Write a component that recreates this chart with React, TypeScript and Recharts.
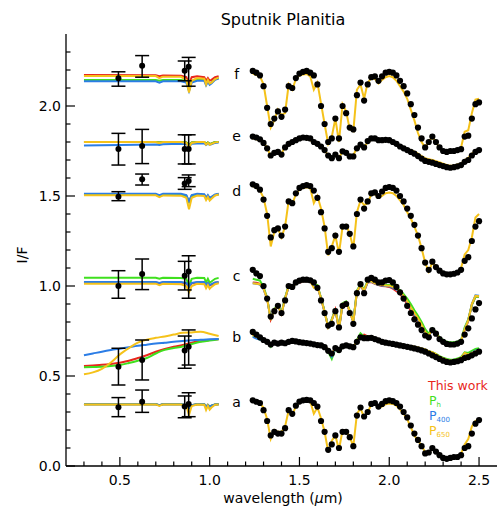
import { ComposedChart, ErrorBar, Line, Scatter, XAxis, YAxis } from "recharts";

const RED = "#e8271c";
const GREEN = "#3fe01e";
const BLUE = "#2b7de6";
const YELLOW = "#f5c21a";
const FONT = "DejaVu Sans";

// axis ticks (every 0.1, labels on the 0.5 ones)
const X_TICKS = [0.3, 0.4, 0.5, 0.6, 0.7, 0.8, 0.9, 1.0, 1.1, 1.2, 1.3, 1.4, 1.5, 1.6, 1.7, 1.8, 1.9, 2.0, 2.1, 2.2, 2.3, 2.4, 2.5];
const Y_TICKS = [0.0, 0.1, 0.2, 0.3, 0.4, 0.5, 0.6, 0.7, 0.8, 0.9, 1.0, 1.1, 1.2, 1.3, 1.4, 1.5, 1.6, 1.7, 1.8, 1.9, 2.0, 2.1, 2.2, 2.3];

// ---- visible part (MVIC) ----
const OBS_WL = [0.492, 0.624, 0.861, 0.883];
const VIS_WL = [0.3, 0.7, 0.72, 0.74, 0.84, 0.87, 0.885, 0.9, 0.93, 0.97, 0.98, 0.99, 1.0, 1.01, 1.03, 1.05];
const B_VIS_WL = [0.3, 0.35, 0.4, 0.45, 0.5, 0.55, 0.6, 0.65, 0.7, 0.75, 0.8, 0.85, 0.9, 0.95, 1.0, 1.05];

const fObs = [2.154, 2.224, 2.196, 2.218];
const fLo = [0.044, 0.064, 0.056, 0.108];
const fHi = [0.036, 0.056, 0.054, 0.052];
const eObs = [1.761, 1.778, 1.761, 1.761];
const eLo = [0.089, 0.098, 0.083, 0.083];
const eHi = [0.087, 0.092, 0.079, 0.079];
const dObs = [1.496, 1.593, 1.57, 1.583];
const dLo = [0.022, 0.032, 0.033, 0.031];
const dHi = [0.028, 0.029, 0.032, 0.034];
const cObs = [1.0, 1.067, 1.057, 1.081];
const cLo = [0.068, 0.087, 0.079, 0.149];
const cHi = [0.085, 0.083, 0.08, 0.087];
const bObs = [0.552, 0.589, 0.641, 0.663];
const bLo = [0.102, 0.111, 0.098, 0.102];
const bHi = [0.102, 0.111, 0.081, 0.093];
const aObs = [0.326, 0.357, 0.33, 0.344];
const aLo = [0.052, 0.059, 0.062, 0.07];
const aHi = [0.054, 0.065, 0.059, 0.063];

const fVisRed = [2.172, 2.171, 2.165, 2.17, 2.168, 2.16, 2.12, 2.16, 2.165, 2.16, 2.14, 2.155, 2.14, 2.145, 2.16, 2.165];
const fVisGreen = [2.145, 2.145, 2.14, 2.145, 2.145, 2.14, 2.1, 2.14, 2.145, 2.145, 2.125, 2.14, 2.125, 2.13, 2.148, 2.155];
const fVisBlue = [2.137, 2.137, 2.13, 2.137, 2.138, 2.13, 2.082, 2.13, 2.14, 2.14, 2.115, 2.135, 2.118, 2.125, 2.145, 2.152];
const fVisYellow = [2.167, 2.166, 2.155, 2.163, 2.162, 2.145, 2.075, 2.14, 2.155, 2.152, 2.12, 2.145, 2.125, 2.13, 2.15, 2.158];
const eVisRed = [1.8, 1.8, 1.797, 1.8, 1.8, 1.798, 1.785, 1.798, 1.8, 1.8, 1.79, 1.797, 1.79, 1.792, 1.8, 1.8];
const eVisGreen = [1.8, 1.8, 1.797, 1.8, 1.8, 1.798, 1.785, 1.798, 1.8, 1.8, 1.79, 1.797, 1.79, 1.792, 1.8, 1.8];
const eVisBlue = [1.78, 1.786, 1.784, 1.787, 1.79, 1.789, 1.775, 1.79, 1.792, 1.793, 1.783, 1.79, 1.785, 1.787, 1.795, 1.797];
const eVisYellow = [1.8, 1.8, 1.795, 1.8, 1.8, 1.795, 1.774, 1.795, 1.8, 1.8, 1.785, 1.795, 1.785, 1.79, 1.798, 1.8];
const dVisRed = [1.508, 1.508, 1.5, 1.507, 1.507, 1.5, 1.47, 1.5, 1.507, 1.506, 1.49, 1.5, 1.488, 1.492, 1.505, 1.51];
const dVisGreen = [1.507, 1.507, 1.5, 1.506, 1.506, 1.5, 1.468, 1.5, 1.506, 1.505, 1.49, 1.5, 1.488, 1.492, 1.505, 1.51];
const dVisBlue = [1.512, 1.512, 1.505, 1.512, 1.512, 1.505, 1.47, 1.505, 1.512, 1.51, 1.49, 1.505, 1.49, 1.495, 1.508, 1.512];
const dVisYellow = [1.504, 1.504, 1.494, 1.503, 1.502, 1.49, 1.426, 1.49, 1.503, 1.5, 1.478, 1.495, 1.475, 1.485, 1.503, 1.508];
const cVisRed = [1.02, 1.02, 1.015, 1.02, 1.02, 1.015, 0.995, 1.015, 1.02, 1.02, 1.005, 1.015, 1.003, 1.008, 1.018, 1.02];
const cVisGreen = [1.046, 1.046, 1.04, 1.046, 1.045, 1.04, 1.0, 1.04, 1.046, 1.045, 1.02, 1.04, 1.018, 1.025, 1.04, 1.045];
const cVisBlue = [1.022, 1.022, 1.017, 1.022, 1.022, 1.017, 0.998, 1.017, 1.022, 1.022, 1.007, 1.017, 1.005, 1.01, 1.02, 1.022];
const cVisYellow = [1.013, 1.013, 1.005, 1.012, 1.01, 1.0, 0.965, 1.0, 1.012, 1.01, 0.987, 1.005, 0.985, 0.995, 1.01, 1.015];
const bVisRed = [0.556, 0.559, 0.562, 0.567, 0.574, 0.585, 0.6, 0.615, 0.635, 0.65, 0.662, 0.672, 0.685, 0.693, 0.7, 0.704];
const bVisGreen = [0.548, 0.55, 0.552, 0.556, 0.561, 0.572, 0.585, 0.6, 0.625, 0.645, 0.655, 0.664, 0.678, 0.69, 0.697, 0.704];
const bVisBlue = [0.615, 0.625, 0.635, 0.644, 0.652, 0.66, 0.668, 0.674, 0.68, 0.685, 0.69, 0.694, 0.698, 0.702, 0.704, 0.706];
const bVisYellow = [0.51, 0.52, 0.54, 0.575, 0.62, 0.655, 0.685, 0.702, 0.712, 0.72, 0.73, 0.74, 0.742, 0.746, 0.735, 0.722];
const aVisRed = [0.343, 0.343, 0.338, 0.343, 0.343, 0.338, 0.322, 0.338, 0.343, 0.343, 0.33, 0.34, 0.33, 0.335, 0.342, 0.343];
const aVisGreen = [0.343, 0.343, 0.338, 0.343, 0.343, 0.338, 0.322, 0.338, 0.343, 0.343, 0.33, 0.34, 0.33, 0.335, 0.342, 0.343];
const aVisBlue = [0.343, 0.343, 0.338, 0.343, 0.343, 0.338, 0.322, 0.338, 0.343, 0.343, 0.33, 0.34, 0.33, 0.335, 0.342, 0.343];
const aVisYellow = [0.342, 0.342, 0.334, 0.342, 0.341, 0.333, 0.283, 0.333, 0.342, 0.34, 0.311, 0.335, 0.313, 0.325, 0.34, 0.342];

// ---- near-IR part (LEISA) ----
const NIR_WL = [
  1.24, 1.26, 1.28, 1.3, 1.32, 1.34, 1.36, 1.38,
  1.4, 1.42, 1.44, 1.46, 1.48, 1.5, 1.52, 1.54,
  1.56, 1.58, 1.6, 1.62, 1.64, 1.66, 1.68, 1.7,
  1.72, 1.74, 1.76, 1.78, 1.8, 1.82, 1.84, 1.86,
  1.88, 1.9, 1.92, 1.94, 1.96, 1.98, 2.0, 2.02,
  2.04, 2.06, 2.08, 2.1, 2.12, 2.14, 2.16, 2.18,
  2.2, 2.22, 2.24, 2.26, 2.28, 2.3, 2.32, 2.34,
  2.36, 2.38, 2.4, 2.42, 2.44, 2.46, 2.48, 2.5,
];

const fData = [
  2.195, 2.185, 2.17, 2.11, 1.99, 1.9, 1.93, 1.97,
  1.94, 1.98, 2.11, 2.1, 2.155, 2.18, 2.19, 2.195,
  2.185, 2.17, 2.12, 2.0, 1.9, 1.8, 1.82, 1.93,
  1.82, 2.0, 1.96, 1.88, 1.87, 2.06, 2.13, 2.03,
  2.12, 2.16, 2.165, 2.14, 2.165, 2.185, 2.19, 2.185,
  2.17, 2.14, 2.11, 2.07, 2.01, 1.95, 1.88, 1.82,
  1.77, 1.8, 1.83, 1.8, 1.77, 1.75, 1.745, 1.75,
  1.75, 1.755, 1.76, 1.83, 1.835, 1.93, 2.01, 2.02,
];
const fModel = [
  2.18, 2.172, 2.165, 2.12, 2.0, 1.88, 1.92, 1.98,
  1.95, 1.96, 2.12, 2.09, 2.15, 2.17, 2.175, 2.178,
  2.165, 2.09, 2.13, 2.015, 1.9, 1.79, 1.83, 1.93,
  1.8, 2.01, 1.97, 1.87, 1.86, 2.09, 2.12, 2.04,
  2.13, 2.155, 2.15, 2.125, 2.145, 2.16, 2.167, 2.16,
  2.14, 2.11, 2.08, 2.04, 1.98, 1.92, 1.85, 1.8,
  1.77, 1.8, 1.83, 1.8, 1.765, 1.75, 1.746, 1.75,
  1.752, 1.758, 1.77, 1.857, 1.865, 1.96, 2.035, 2.04,
];
const eData = [
  1.83, 1.825, 1.815, 1.795, 1.765, 1.725, 1.74, 1.745,
  1.73, 1.77, 1.79, 1.8, 1.81, 1.82, 1.825, 1.823,
  1.82, 1.8, 1.79, 1.775, 1.755, 1.725, 1.71, 1.73,
  1.71, 1.748, 1.74, 1.72, 1.72, 1.765, 1.785, 1.77,
  1.805, 1.82, 1.82, 1.81, 1.81, 1.812, 1.81, 1.8,
  1.79, 1.775, 1.765, 1.755, 1.745, 1.735, 1.722, 1.708,
  1.695, 1.69, 1.685, 1.678, 1.672, 1.666, 1.66, 1.657,
  1.66, 1.665, 1.672, 1.69, 1.7, 1.725, 1.745, 1.755,
];
const eModel = [
  1.82, 1.815, 1.81, 1.795, 1.77, 1.72, 1.745, 1.745,
  1.735, 1.775, 1.79, 1.795, 1.805, 1.815, 1.818, 1.817,
  1.813, 1.79, 1.785, 1.775, 1.755, 1.725, 1.712, 1.735,
  1.71, 1.75, 1.745, 1.725, 1.725, 1.77, 1.783, 1.77,
  1.8, 1.812, 1.815, 1.805, 1.802, 1.806, 1.806, 1.8,
  1.79, 1.78, 1.772, 1.763, 1.755, 1.746, 1.735, 1.722,
  1.71, 1.705, 1.7, 1.693, 1.688, 1.68, 1.672, 1.668,
  1.67, 1.675, 1.68, 1.7, 1.712, 1.735, 1.75, 1.758,
];
const dData = [
  1.565, 1.555, 1.535, 1.48, 1.39, 1.27, 1.31, 1.32,
  1.28, 1.33, 1.47, 1.46, 1.515, 1.545, 1.555, 1.56,
  1.555, 1.53, 1.49, 1.41, 1.32, 1.19, 1.21, 1.28,
  1.19, 1.33, 1.33, 1.29, 1.22, 1.4, 1.48, 1.43,
  1.47, 1.515, 1.52, 1.5, 1.525, 1.545, 1.55, 1.545,
  1.53, 1.5, 1.47, 1.43, 1.39, 1.34, 1.28, 1.21,
  1.13, 1.09, 1.135, 1.105, 1.085, 1.07, 1.065, 1.065,
  1.068, 1.075, 1.09, 1.14, 1.16, 1.25, 1.33, 1.36,
];
const dModel = [
  1.555, 1.545, 1.53, 1.49, 1.4, 1.22, 1.3, 1.32,
  1.27, 1.33, 1.475, 1.455, 1.51, 1.535, 1.545, 1.548,
  1.545, 1.46, 1.5, 1.43, 1.33, 1.17, 1.22, 1.28,
  1.18, 1.33, 1.34, 1.29, 1.21, 1.41, 1.475, 1.45,
  1.46, 1.51, 1.51, 1.49, 1.5, 1.515, 1.519, 1.515,
  1.5, 1.475, 1.45, 1.41, 1.375, 1.33, 1.28, 1.21,
  1.13, 1.08, 1.13, 1.11, 1.09, 1.075, 1.07, 1.07,
  1.072, 1.078, 1.1, 1.175, 1.2, 1.27, 1.38, 1.4,
];
const cData = [
  1.09, 1.07, 1.055, 1.0, 0.93, 0.83, 0.86, 0.89,
  0.85, 0.92, 1.0, 0.995, 1.02, 1.03, 1.035, 1.035,
  1.032, 1.02, 0.99, 0.92, 0.85, 0.78, 0.79, 0.86,
  0.77, 0.89, 0.9, 0.85, 0.79, 0.96, 1.01, 0.96,
  1.035, 1.045, 1.035, 1.02, 1.02, 1.03, 1.033, 1.02,
  0.995, 0.965, 0.93, 0.89, 0.85, 0.815, 0.785, 0.755,
  0.725, 0.715, 0.755, 0.735, 0.705, 0.69, 0.678, 0.675,
  0.675, 0.68, 0.69, 0.73, 0.765, 0.82, 0.87, 0.905,
];
const cRed = [
  1.02, 1.018, 1.012, 0.985, 0.93, 0.815, 0.87, 0.89,
  0.845, 0.93, 0.998, 0.99, 1.012, 1.02, 1.024, 1.026,
  1.024, 1.0, 0.998, 0.93, 0.855, 0.772, 0.81, 0.868,
  0.76, 0.898, 0.908, 0.858, 0.8, 0.968, 1.0, 0.97,
  1.02, 1.022, 1.012, 1.005, 1.0, 0.998, 0.995, 0.985,
  0.972, 0.955, 0.93, 0.9, 0.862, 0.83, 0.8, 0.77,
  0.74, 0.722, 0.755, 0.735, 0.708, 0.692, 0.682, 0.68,
  0.68, 0.684, 0.694, 0.755, 0.805, 0.895, 0.94, 0.94,
];
const cGreen = [
  1.04, 1.035, 1.03, 0.995, 0.935, 0.815, 0.875, 0.895,
  0.85, 0.935, 1.005, 0.995, 1.018, 1.028, 1.032, 1.033,
  1.031, 1.005, 1.005, 0.935, 0.86, 0.775, 0.815, 0.875,
  0.765, 0.905, 0.915, 0.865, 0.805, 0.975, 1.01, 0.98,
  1.03, 1.03, 1.02, 1.012, 1.008, 1.006, 1.005, 1.0,
  0.99, 0.978, 0.955, 0.93, 0.9, 0.865, 0.835, 0.8,
  0.76, 0.735, 0.765, 0.745, 0.715, 0.7, 0.69, 0.688,
  0.688, 0.692, 0.7, 0.77, 0.815, 0.895, 0.94, 0.94,
];
const cBlue = [
  1.015, 1.012, 1.008, 0.983, 0.93, 0.812, 0.87, 0.89,
  0.845, 0.93, 0.998, 0.99, 1.01, 1.02, 1.025, 1.027,
  1.025, 1.0, 1.0, 0.93, 0.855, 0.772, 0.81, 0.87,
  0.76, 0.9, 0.91, 0.86, 0.8, 0.97, 1.003, 0.973,
  1.022, 1.024, 1.013, 1.006, 1.003, 1.0, 0.998, 0.99,
  0.98, 0.965, 0.94, 0.91, 0.875, 0.84, 0.81, 0.775,
  0.738, 0.72, 0.755, 0.735, 0.705, 0.69, 0.68, 0.678,
  0.678, 0.682, 0.692, 0.76, 0.81, 0.9, 0.948, 0.946,
];
const cYellow = [
  1.015, 1.013, 1.01, 0.985, 0.93, 0.81, 0.87, 0.89,
  0.845, 0.93, 1.0, 0.99, 1.012, 1.022, 1.026, 1.028,
  1.026, 0.99, 1.0, 0.932, 0.855, 0.77, 0.81, 0.87,
  0.76, 0.9, 0.91, 0.86, 0.8, 0.97, 1.005, 0.975,
  1.025, 1.026, 1.015, 1.008, 1.005, 1.003, 1.002, 0.995,
  0.985, 0.97, 0.945, 0.915, 0.88, 0.85, 0.82, 0.785,
  0.745, 0.725, 0.76, 0.74, 0.71, 0.695, 0.683, 0.681,
  0.681, 0.685, 0.695, 0.76, 0.81, 0.9, 0.945, 0.943,
];
const bData = [
  0.745, 0.73, 0.715, 0.7, 0.69, 0.675, 0.685, 0.68,
  0.685, 0.682, 0.69, 0.695, 0.692, 0.688, 0.685, 0.683,
  0.68, 0.676, 0.672, 0.67, 0.66, 0.64, 0.625, 0.655,
  0.645, 0.665, 0.67, 0.665, 0.66, 0.69, 0.715, 0.71,
  0.71, 0.712, 0.705, 0.698, 0.69, 0.685, 0.682, 0.678,
  0.674, 0.67, 0.666, 0.662, 0.658, 0.653, 0.648, 0.642,
  0.635, 0.625, 0.615, 0.605, 0.595, 0.585, 0.578, 0.575,
  0.578, 0.582, 0.588, 0.6, 0.605, 0.615, 0.625, 0.635,
];
const bRed = [
  0.73, 0.716, 0.706, 0.702, 0.695, 0.672, 0.688, 0.679,
  0.685, 0.679, 0.689, 0.696, 0.697, 0.689, 0.686, 0.686,
  0.684, 0.68, 0.677, 0.674, 0.665, 0.645, 0.615, 0.657,
  0.642, 0.666, 0.67, 0.666, 0.658, 0.698, 0.72, 0.73,
  0.72, 0.72, 0.712, 0.704, 0.696, 0.691, 0.687, 0.682,
  0.679, 0.676, 0.672, 0.669, 0.665, 0.661, 0.657, 0.652,
  0.645, 0.636, 0.63, 0.62, 0.605, 0.597, 0.589, 0.584,
  0.586, 0.591, 0.6, 0.626, 0.62, 0.632, 0.642, 0.648,
];
const bGreen = [
  0.725, 0.712, 0.703, 0.698, 0.69, 0.662, 0.685, 0.675,
  0.682, 0.675, 0.688, 0.695, 0.695, 0.686, 0.683, 0.682,
  0.68, 0.676, 0.673, 0.668, 0.655, 0.635, 0.595, 0.65,
  0.632, 0.66, 0.668, 0.662, 0.655, 0.7, 0.737, 0.72,
  0.722, 0.72, 0.71, 0.702, 0.695, 0.69, 0.686, 0.682,
  0.679, 0.676, 0.672, 0.669, 0.665, 0.661, 0.657, 0.652,
  0.646, 0.637, 0.632, 0.623, 0.61, 0.602, 0.595, 0.59,
  0.592, 0.597, 0.605, 0.632, 0.628, 0.64, 0.65, 0.655,
];
const bBlue = [
  0.718, 0.708, 0.702, 0.698, 0.692, 0.668, 0.684, 0.676,
  0.681, 0.676, 0.685, 0.691, 0.692, 0.685, 0.682, 0.681,
  0.679, 0.675, 0.672, 0.669, 0.66, 0.64, 0.608, 0.652,
  0.638, 0.66, 0.665, 0.66, 0.652, 0.69, 0.718, 0.71,
  0.715, 0.716, 0.708, 0.7, 0.692, 0.687, 0.683, 0.679,
  0.676, 0.673, 0.669, 0.666, 0.662, 0.658, 0.653, 0.647,
  0.64, 0.63, 0.622, 0.61, 0.585, 0.59, 0.585, 0.58,
  0.583, 0.59, 0.598, 0.625, 0.615, 0.63, 0.64, 0.646,
];
const bYellow = [
  0.728, 0.718, 0.709, 0.705, 0.698, 0.675, 0.69, 0.682,
  0.687, 0.681, 0.69, 0.697, 0.698, 0.69, 0.687, 0.687,
  0.685, 0.681, 0.679, 0.676, 0.668, 0.648, 0.62, 0.66,
  0.645, 0.668, 0.672, 0.668, 0.66, 0.695, 0.725, 0.715,
  0.72, 0.722, 0.713, 0.705, 0.697, 0.692, 0.688, 0.683,
  0.68, 0.677, 0.673, 0.67, 0.666, 0.662, 0.658, 0.653,
  0.647, 0.638, 0.632, 0.622, 0.607, 0.598, 0.59, 0.584,
  0.587, 0.592, 0.6, 0.628, 0.618, 0.628, 0.637, 0.644,
];
const aData = [
  0.365, 0.357, 0.35, 0.31, 0.25, 0.17, 0.19, 0.18,
  0.18, 0.21, 0.31, 0.29, 0.335, 0.358, 0.365, 0.367,
  0.365, 0.35, 0.33, 0.25, 0.19, 0.09, 0.12, 0.17,
  0.1, 0.19, 0.19, 0.16, 0.11, 0.28, 0.325, 0.275,
  0.3, 0.345, 0.35, 0.33, 0.345, 0.36, 0.365, 0.36,
  0.35, 0.33, 0.3, 0.27, 0.225, 0.18, 0.145, 0.11,
  0.07, 0.075, 0.1, 0.08, 0.06, 0.045, 0.04, 0.045,
  0.05, 0.05, 0.06, 0.1, 0.11, 0.18, 0.235, 0.255,
];
const aModel = [
  0.357, 0.352, 0.347, 0.325, 0.26, 0.15, 0.2, 0.19,
  0.19, 0.22, 0.31, 0.285, 0.33, 0.352, 0.36, 0.362,
  0.36, 0.29, 0.325, 0.265, 0.19, 0.08, 0.14, 0.17,
  0.09, 0.2, 0.2, 0.16, 0.11, 0.29, 0.32, 0.27,
  0.3, 0.34, 0.342, 0.325, 0.33, 0.343, 0.347, 0.345,
  0.335, 0.315, 0.29, 0.26, 0.215, 0.17, 0.14, 0.115,
  0.075, 0.07, 0.1, 0.085, 0.06, 0.05, 0.043, 0.048,
  0.052, 0.05, 0.07, 0.12, 0.15, 0.22, 0.25, 0.26,
];

// spectrum labels
const LABELS = ["f", "e", "d", "c", "b", "a"];
const LABEL_X = [1.15, 1.15, 1.15, 1.15, 1.15, 1.15];
const LABEL_Y = [2.178, 1.833, 1.528, 1.056, 0.719, 0.357];

const pts = (xs: number[], ys: number[]) => xs.map((x, i) => ({ x, y: ys[i] }));
const obs = (ys: number[], lo: number[], hi: number[]) =>
  OBS_WL.map((x, i) => ({ x, y: ys[i], err: [lo[i], hi[i]] }));

const isMajor = (v: number) => Math.abs(v * 2 - Math.round(v * 2)) < 1e-6;

function BottomTick({ x, y, payload }: any) {
  const major = isMajor(payload.value);
  return (
    <g>
      <line x1={x} x2={x} y1={y} y2={y - (major ? 9 : 4.5)} stroke="#000" strokeWidth={1.2} />
      {major && (
        <text x={x} y={y + 19} textAnchor="middle" fontSize={14} fontFamily={FONT} fill="#000">
          {payload.value.toFixed(1)}
        </text>
      )}
    </g>
  );
}
function TopTick({ x, y, payload }: any) {
  const major = isMajor(payload.value);
  return <line x1={x} x2={x} y1={y} y2={y + (major ? 9 : 4.5)} stroke="#000" strokeWidth={1.2} />;
}
function LeftTick({ x, y, payload }: any) {
  const major = isMajor(payload.value);
  return (
    <g>
      <line x1={x} x2={x + (major ? 9 : 4.5)} y1={y} y2={y} stroke="#000" strokeWidth={1.2} />
      {major && (
        <text x={x - 5} y={y + 5} textAnchor="end" fontSize={14} fontFamily={FONT} fill="#000">
          {payload.value.toFixed(1)}
        </text>
      )}
    </g>
  );
}
function RightTick({ x, y, payload }: any) {
  const major = isMajor(payload.value);
  return <line x1={x} x2={x - (major ? 9 : 4.5)} y1={y} y2={y} stroke="#000" strokeWidth={1.2} />;
}

const dot = (p: any) => <circle cx={p.cx} cy={p.cy} r={3.1} fill="#000" />;
const bigDot = (p: any) => <circle cx={p.cx} cy={p.cy} r={3} fill="#000" />;
const labelShape = (p: any) => (
  <text x={p.cx} y={p.cy + 5} textAnchor="middle" fontSize={14} fontFamily={FONT} fill="#000">
    {p.payload.label}
  </text>
);

const nirData = [fData, eData, dData, cData, bData, aData];
const nirColored = [
  { ys: cRed, c: RED }, { ys: cGreen, c: GREEN }, { ys: cBlue, c: BLUE },
  { ys: bRed, c: RED }, { ys: bGreen, c: GREEN }, { ys: bBlue, c: BLUE },
];
const nirYellow = [fModel, eModel, dModel, cYellow, bYellow, aModel];
const visSets = [
  [fVisRed, fVisGreen, fVisBlue, fVisYellow],
  [eVisRed, eVisGreen, eVisBlue, eVisYellow],
  [dVisRed, dVisGreen, dVisBlue, dVisYellow],
  [cVisRed, cVisGreen, cVisBlue, cVisYellow],
  [aVisRed, aVisGreen, aVisBlue, aVisYellow],
];
const obsSets = [
  obs(fObs, fLo, fHi), obs(eObs, eLo, eHi), obs(dObs, dLo, dHi),
  obs(cObs, cLo, cHi), obs(bObs, bLo, bHi), obs(aObs, aLo, aHi),
];
const COLORS = [RED, GREEN, BLUE, YELLOW];

export default function App() {
  const labelData = LABELS.map((label, i) => ({ x: LABEL_X[i], y: LABEL_Y[i], label }));
  return (
    <div style={{ position: "absolute", left: 0, top: 0, width: 500, height: 508, background: "#fff" }}>
      <ComposedChart width={500} height={508} margin={{ top: 34, right: 3, bottom: 12, left: 6 }}>
        <XAxis
          dataKey="x" type="number" domain={[0.2, 2.6]} allowDataOverflow ticks={X_TICKS} interval={0}
          height={30} tickSize={0} tickMargin={0} tick={BottomTick}
          axisLine={{ stroke: "#000", strokeWidth: 1.3 }} tickLine={false}
        />
        <XAxis
          xAxisId="top" orientation="top" dataKey="x" type="number" domain={[0.2, 2.6]} allowDataOverflow
          ticks={X_TICKS} interval={0} height={0} tickSize={0} tickMargin={0} tick={TopTick}
          axisLine={{ stroke: "#000", strokeWidth: 1.3 }} tickLine={false}
        />
        <YAxis
          type="number" domain={[0, 2.4]} allowDataOverflow ticks={Y_TICKS} interval={0} width={60}
          tickSize={0} tickMargin={0} tick={LeftTick} axisLine={{ stroke: "#000", strokeWidth: 1.3 }} tickLine={false}
        />
        <YAxis
          yAxisId="right" orientation="right" type="number" domain={[0, 2.4]} allowDataOverflow ticks={Y_TICKS}
          interval={0} width={0} tickSize={0} tickMargin={0} tick={RightTick}
          axisLine={{ stroke: "#000", strokeWidth: 1.3 }} tickLine={false}
        />

        {nirData.map((ys, i) => (
          <Scatter key={`nd${i}`} data={pts(NIR_WL, ys)} dataKey="y" shape={dot} isAnimationActive={false} />
        ))}
        {nirColored.map((s, i) => (
          <Line key={`nc${i}`} data={pts(NIR_WL, s.ys)} dataKey="y" type="linear" stroke={s.c}
            strokeWidth={2} dot={false} activeDot={false} isAnimationActive={false} />
        ))}
        {nirYellow.map((ys, i) => (
          <Line key={`ny${i}`} data={pts(NIR_WL, ys)} dataKey="y" type="linear" stroke={YELLOW}
            strokeWidth={2} dot={false} activeDot={false} isAnimationActive={false} />
        ))}

        {visSets.map((set, i) =>
          set.map((ys, j) => (
            <Line key={`v${i}-${j}`} data={pts(VIS_WL, ys)} dataKey="y" type="linear" stroke={COLORS[j]}
              strokeWidth={2} dot={false} activeDot={false} isAnimationActive={false} />
          ))
        )}
        {[bVisRed, bVisGreen, bVisBlue, bVisYellow].map((ys, j) => (
          <Line key={`vb${j}`} data={pts(B_VIS_WL, ys)} dataKey="y" type="monotone" stroke={COLORS[j]}
            strokeWidth={2} dot={false} activeDot={false} isAnimationActive={false} />
        ))}

        {obsSets.map((d, i) => (
          <Scatter key={`o${i}`} data={d} dataKey="y" shape={bigDot} isAnimationActive={false}>
            <ErrorBar dataKey="err" direction="y" width={7} stroke="#000" strokeWidth={1.5} isAnimationActive={false} />
          </Scatter>
        ))}

        <Scatter data={labelData} dataKey="y" shape={labelShape} isAnimationActive={false} />
      </ComposedChart>

      <svg width={500} height={508} style={{ position: "absolute", left: 0, top: 0, pointerEvents: "none" }}>
        <text x={283} y={25} textAnchor="middle" fontSize={16} fontFamily={FONT} fill="#000">Sputnik Planitia</text>
        <text x={0} y={0} transform="translate(27,255) rotate(-90)" textAnchor="middle" fontSize={14} fontFamily={FONT} fill="#000">I/F</text>
        <text x={283} y={503} textAnchor="middle" fontSize={14} fontFamily={FONT} fill="#000">
          wavelength (<tspan fontStyle="italic">μ</tspan>m)
        </text>
        <text x={428} y={390} fontSize={12.5} fontFamily={FONT} fill={RED}>This work</text>
        <text x={429} y={405} fontSize={12.5} fontFamily={FONT} fill={GREEN}>
          P<tspan fontSize={7} dy={2}>h</tspan>
        </text>
        <text x={429} y={420} fontSize={12.5} fontFamily={FONT} fill={BLUE}>
          P<tspan fontSize={7} dy={2}>400</tspan>
        </text>
        <text x={429} y={435} fontSize={12.5} fontFamily={FONT} fill={YELLOW}>
          P<tspan fontSize={7} dy={2}>650</tspan>
        </text>
      </svg>
    </div>
  );
}
